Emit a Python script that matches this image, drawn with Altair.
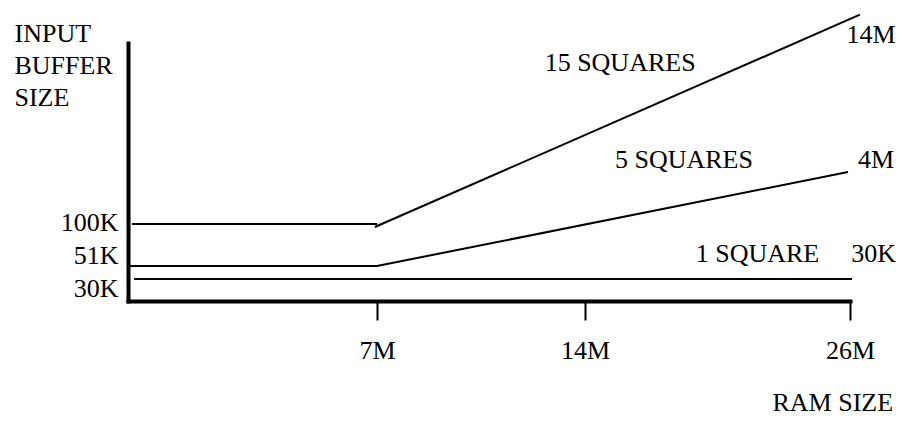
import altair as alt
import pandas as pd

# ---- data ----
# line segments: id, RAM size (M), input buffer size (K)
line_id = ["15a", "15a", "15b", "15b", "5", "5", "5", "1", "1"]
line_x = [0.11, 7.0, 6.94, 26.45, 0.06, 7.0, 25.91, 0.17, 26.09]
line_y = [100, 100, 96.5, 14000, 51, 51, 4000, 30, 30]

# annotation texts and their anchors (M, K)
ann_text = ["15 SQUARES", "14M", "5 SQUARES", "4M", "1 SQUARE", "30K"]
ann_x = [15.59, 26.95, 18.48, 27.18, 21.81, 27.07]
ann_y = [10900, 12700, 4760, 4760, 65, 65]

x_ticks = [7, 14, 26]
y_ticks = [30, 51, 100]

FONT = "Liberation Serif"
FS = 26

lines_df = pd.DataFrame({"id": line_id, "x": line_x, "y": line_y,
                         "order": list(range(len(line_id)))})
ann_df = pd.DataFrame({"text": ann_text, "x": ann_x, "y": ann_y})

# schematic (non-proportional) scales: piecewise linear
xscale = alt.Scale(domain=[0, 7, 14, 26], range=[0, 249, 457, 722],
                   nice=False, zero=False)
yscale = alt.Scale(domain=[0, 30, 51, 100, 4000, 12200],
                   range=[258, 236, 223, 181, 129, 0],
                   nice=False, zero=False)

xaxis = alt.Axis(
    values=x_ticks, labelExpr="datum.value + 'M'", grid=False,
    domainColor="black", domainWidth=4, domainCap="square",
    ticks=True, tickColor="black", tickWidth=2, tickSize=19,
    labelFont=FONT, labelFontSize=FS, labelColor="black",
    labelBaseline="alphabetic", labelPadding=38, labelFlush=False,
    labelOverlap=False, labelAlign="center",
    title="RAM SIZE", titleFont=FONT, titleFontSize=FS,
    titleFontWeight="normal", titleColor="black", titleAlign="left",
    titleBaseline="alphabetic", titleAnchor="start", titleX=644, titleY=109,
)
yaxis = alt.Axis(
    values=y_ticks, labelExpr="datum.value + 'K'", grid=False,
    domainColor="black", domainWidth=4, domainCap="square",
    ticks=False, tickSize=0,
    labelFont=FONT, labelFontSize=FS, labelColor="black",
    labelBaseline="alphabetic", labelPadding=10, labelOverlap=False,
    labelFlush=False,
    labelOffset={"condition": [{"test": "datum.value == 51", "value": -3},
                               {"test": "datum.value == 30", "value": 17}],
                 "value": 6},
    title=["INPUT", "BUFFER", "SIZE"], titleFont=FONT, titleFontSize=FS,
    titleFontWeight="normal", titleColor="black", titleAngle=0,
    titleAlign="left", titleBaseline="alphabetic", titleAnchor="start",
    titleLineHeight=32, titleX=-114, titleY=-2,
)

lines = alt.Chart(lines_df).mark_line(color="black", strokeWidth=2,
                                      strokeCap="butt").encode(
    x=alt.X("x:Q", scale=xscale, axis=xaxis),
    y=alt.Y("y:Q", scale=yscale, axis=yaxis),
    detail="id:N",
    order="order:Q",
)

texts = alt.Chart(ann_df).mark_text(font=FONT, fontSize=FS, color="black",
                                    align="center", baseline="middle").encode(
    x=alt.X("x:Q", scale=xscale),
    y=alt.Y("y:Q", scale=yscale),
    text="text:N",
)

chart = alt.layer(lines, texts).properties(
    width=722, height=258,
    padding={"left": 120, "top": 35, "right": 46, "bottom": 120},
    autosize="none",
).configure_view(stroke=None)

chart.save("out.html", embed_options={"renderer": "svg", "actions": False})
